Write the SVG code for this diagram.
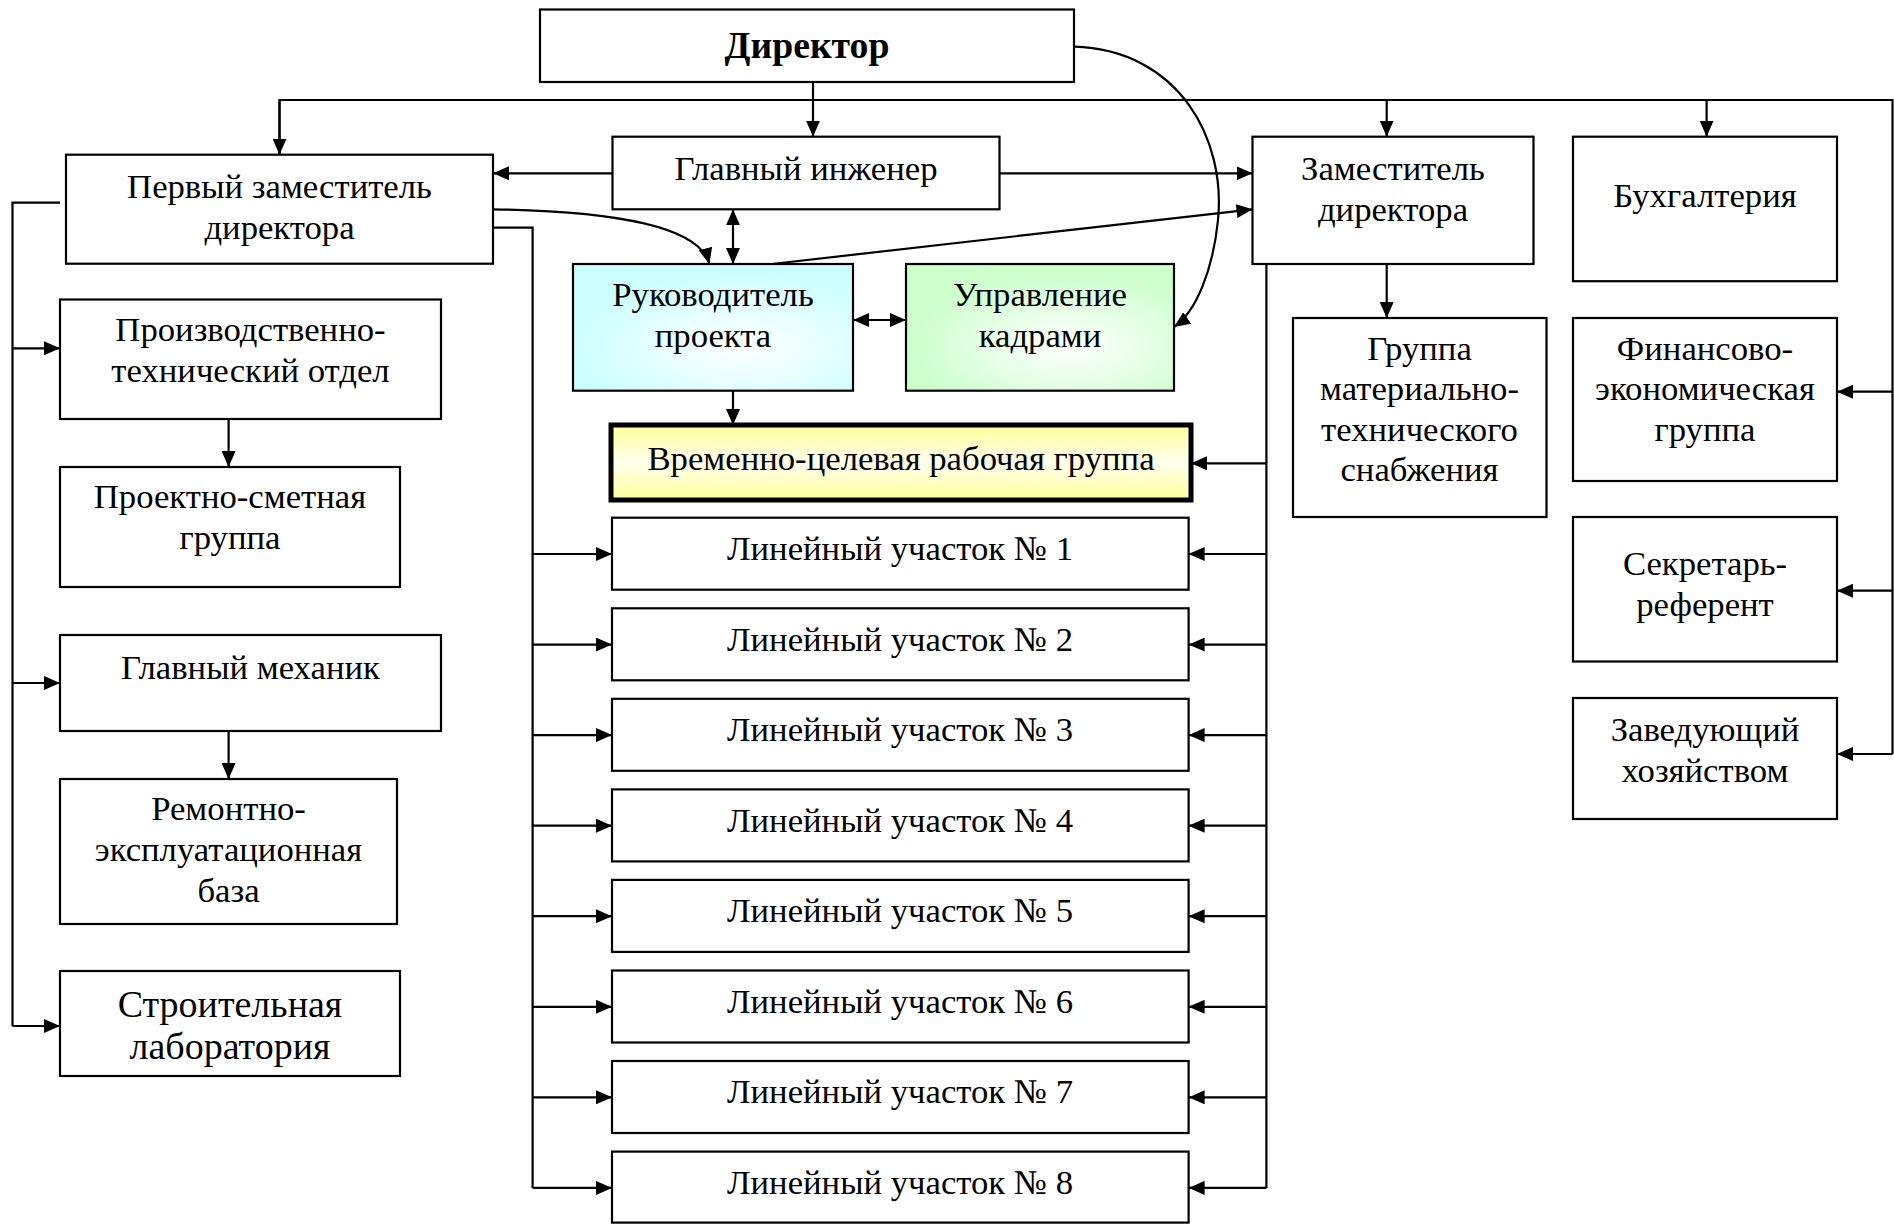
<svg xmlns="http://www.w3.org/2000/svg" width="1894" height="1224" viewBox="0 0 1894 1224">
<defs>
<marker id="ah" markerUnits="userSpaceOnUse" markerWidth="16" markerHeight="14" viewBox="0 0 16 14" refX="16" refY="7" orient="auto-start-reverse">
<path d="M0,0 L16,7 L0,14 Z" fill="#000"/>
</marker>
<radialGradient id="gCyan" cx="0.6" cy="0.65" r="0.6">
<stop offset="0" stop-color="#ffffff"/>
<stop offset="1" stop-color="#ccffff"/>
</radialGradient>
<radialGradient id="gGreen" cx="0.6" cy="0.65" r="0.6">
<stop offset="0" stop-color="#ffffff"/>
<stop offset="1" stop-color="#ccffcc"/>
</radialGradient>
<linearGradient id="gYellow" x1="0" y1="0" x2="0" y2="1">
<stop offset="0" stop-color="#ffff99"/>
<stop offset="0.5" stop-color="#ffffee"/>
<stop offset="1" stop-color="#ffff99"/>
</linearGradient>
</defs>
<style>
.box{fill:#fff;stroke:#000;stroke-width:2.2}
.t{font-family:"Liberation Serif","Times New Roman",serif;font-size:34.7px;fill:#000;text-anchor:middle}
.b{font-weight:bold;font-size:37.7px}
.l{font-size:38px}
.c{fill:none;stroke:#000;stroke-width:2.2}
.a{fill:none;stroke:#000;stroke-width:2.2;marker-end:url(#ah)}
.d{fill:none;stroke:#000;stroke-width:2.2;marker-start:url(#ah);marker-end:url(#ah)}
</style>

<g id="connectors">
<path class="a" d="M813,82 V136.7"/>
<path class="c" d="M279.5,154 V100 H1892.5 V754"/>
<path class="a" d="M279.5,100 V154.7"/>
<path class="a" d="M1386.7,100 V136.7"/>
<path class="a" d="M1706.6,100 V136.7"/>
<path class="a" d="M1892.5,391.7 H1837"/>
<path class="a" d="M1892.5,590.7 H1837"/>
<path class="a" d="M1892.5,754 H1837"/>
<path class="a" d="M612.5,173.3 H493"/>
<path class="a" d="M999.5,173.3 H1252.5"/>
<path class="d" d="M733,209.3 V264"/>
<path class="a" d="M493,209.3 C620,211 700,228 709.4,264"/>
<path class="a" d="M772,264 L1252.5,209.3"/>
<path class="a" d="M1074,46.7 C1180,50 1226,140 1218,220 C1213,270 1196,312 1174,327"/>
<path class="d" d="M853,320 H906"/>
<path class="a" d="M733,390.7 V425"/>
<path class="c" d="M60,202.7 H12.5 V1026"/>
<path class="a" d="M12.5,348.3 H60"/>
<path class="a" d="M12.5,683 H60"/>
<path class="a" d="M12.5,1026 H60"/>
<path class="a" d="M228.6,419 V467"/>
<path class="a" d="M228.6,731 V779"/>
<path class="c" d="M493,227.7 H532.6 V1188"/>
<path class="a" d="M532.6,554 H612"/>
<path class="a" d="M532.6,644.6 H612"/>
<path class="a" d="M532.6,735.1 H612"/>
<path class="a" d="M532.6,825.7 H612"/>
<path class="a" d="M532.6,916.2 H612"/>
<path class="a" d="M532.6,1006.8 H612"/>
<path class="a" d="M532.6,1097.3 H612"/>
<path class="a" d="M532.6,1187.9 H612"/>
<path class="c" d="M1266.4,264 V1188"/>
<path class="a" d="M1266.4,463.3 H1191"/>
<path class="a" d="M1266.4,554 H1188.6"/>
<path class="a" d="M1266.4,644.6 H1188.6"/>
<path class="a" d="M1266.4,735.1 H1188.6"/>
<path class="a" d="M1266.4,825.7 H1188.6"/>
<path class="a" d="M1266.4,916.2 H1188.6"/>
<path class="a" d="M1266.4,1006.8 H1188.6"/>
<path class="a" d="M1266.4,1097.3 H1188.6"/>
<path class="a" d="M1266.4,1187.9 H1188.6"/>
<path class="a" d="M1386.7,264 V318"/>
</g>

<g id="director"><rect class="box" x="540" y="9.5" width="534" height="72.5"/><text class="t b" x="807" y="58">Директор</text></g>
<g id="first-deputy"><rect class="box" x="66" y="154.7" width="427" height="109"/><text class="t" x="279.5" y="198">Первый заместитель</text><text class="t" x="279.5" y="239">директора</text></g>
<g id="chief-engineer"><rect class="box" x="612.5" y="136.7" width="387" height="72.6"/><text class="t" x="806" y="180">Главный инженер</text></g>
<g id="deputy-director"><rect class="box" x="1252.5" y="136.7" width="281" height="127.3"/><text class="t" x="1393" y="180">Заместитель</text><text class="t" x="1393" y="221">директора</text></g>
<g id="accounting"><rect class="box" x="1573" y="136.7" width="264" height="144.5"/><text class="t" x="1705" y="207">Бухгалтерия</text></g>
<g id="project-manager"><rect class="box" style="fill:url(#gCyan)" x="573" y="264" width="280" height="126.7"/><text class="t" x="713" y="306">Руководитель</text><text class="t" x="713" y="347">проекта</text></g>
<g id="hr"><rect class="box" style="fill:url(#gGreen)" x="906" y="264" width="268" height="126.7"/><text class="t" x="1040" y="306">Управление</text><text class="t" x="1040" y="347">кадрами</text></g>
<g id="pto"><rect class="box" x="60" y="299.5" width="381" height="119.5"/><text class="t" x="250.5" y="341">Производственно-</text><text class="t" x="250.5" y="382">технический отдел</text></g>
<g id="estimate-group"><rect class="box" x="60" y="467" width="340" height="120"/><text class="t" x="230" y="508">Проектно-сметная</text><text class="t" x="230" y="549">группа</text></g>
<g id="chief-mechanic"><rect class="box" x="60" y="635" width="381" height="96"/><text class="t" x="250.5" y="679">Главный механик</text></g>
<g id="repair-base"><rect class="box" x="60" y="779" width="337" height="145"/><text class="t" x="228.5" y="820">Ремонтно-</text><text class="t" x="228.5" y="861">эксплуатационная</text><text class="t" x="228.5" y="902">база</text></g>
<g id="lab"><rect class="box" x="60" y="971" width="340" height="105"/><text class="t l" x="230" y="1017">Строительная</text><text class="t l" x="230" y="1059">лаборатория</text></g>
<g id="task-group"><rect x="611" y="425" width="580" height="75" style="fill:url(#gYellow);stroke:#000;stroke-width:5"/><text class="t" x="901" y="470">Временно-целевая рабочая группа</text></g>
<g id="site-1"><rect class="box" x="612" y="517.7" width="576.6" height="72"/><text class="t" x="900" y="560">Линейный участок № 1</text></g>
<g id="site-2"><rect class="box" x="612" y="608.3" width="576.6" height="72"/><text class="t" x="900" y="650.6">Линейный участок № 2</text></g>
<g id="site-3"><rect class="box" x="612" y="698.8" width="576.6" height="72"/><text class="t" x="900" y="741.1">Линейный участок № 3</text></g>
<g id="site-4"><rect class="box" x="612" y="789.4" width="576.6" height="72"/><text class="t" x="900" y="831.7">Линейный участок № 4</text></g>
<g id="site-5"><rect class="box" x="612" y="879.9" width="576.6" height="72"/><text class="t" x="900" y="922.2">Линейный участок № 5</text></g>
<g id="site-6"><rect class="box" x="612" y="970.5" width="576.6" height="72"/><text class="t" x="900" y="1012.8">Линейный участок № 6</text></g>
<g id="site-7"><rect class="box" x="612" y="1061" width="576.6" height="72"/><text class="t" x="900" y="1103.3">Линейный участок № 7</text></g>
<g id="site-8"><rect class="box" x="612" y="1151.6" width="576.6" height="71"/><text class="t" x="900" y="1193.9">Линейный участок № 8</text></g>
<g id="supply-group"><rect class="box" x="1293" y="318" width="253.5" height="199"/><text class="t" x="1419.5" y="360">Группа</text><text class="t" x="1419.5" y="400">материально-</text><text class="t" x="1419.5" y="441">технического</text><text class="t" x="1419.5" y="481">снабжения</text></g>
<g id="finance-group"><rect class="box" x="1573" y="318" width="264" height="163"/><text class="t" x="1705" y="360">Финансово-</text><text class="t" x="1705" y="400">экономическая</text><text class="t" x="1705" y="441">группа</text></g>
<g id="secretary"><rect class="box" x="1573" y="517" width="264" height="144.5"/><text class="t" x="1705" y="575">Секретарь-</text><text class="t" x="1705" y="616">референт</text></g>
<g id="household"><rect class="box" x="1573" y="698" width="264" height="121"/><text class="t" x="1705" y="741">Заведующий</text><text class="t" x="1705" y="782">хозяйством</text></g>
</svg>
